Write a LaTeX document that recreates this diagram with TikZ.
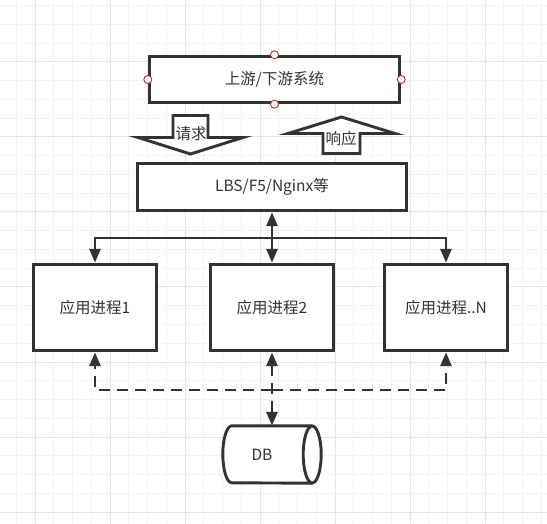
\documentclass[tikz,border=0pt]{standalone}
\usepackage{fontspec}
\setmainfont{Noto Sans CJK SC}
\usetikzlibrary{arrows.meta}

\begin{document}
\begin{tikzpicture}[x=1pt,y=-1pt,
    head/.tip={Triangle[width=11pt,length=14pt]},
    box/.style={draw=ink,fill=white,line width=2.9pt,text=txt,inner sep=0pt,
        font=\fontsize{15.5}{18}\selectfont},
    lbl/.style={text=txt,inner sep=0pt,font=\fontsize{15.5}{18}\selectfont},
    conn/.style={draw=ink,line width=2.9pt,-head},
    dashconn/.style={conn,dash pattern=on 11pt off 7pt},
    blockarrow/.style={draw=ink,fill=white,line width=2.9pt},
    pin/.style={draw=pinred,fill=white,line width=0.9pt},
    minorgrid/.style={draw=gridlight,line width=1pt},
    majorgrid/.style={draw=griddark,line width=1pt}]

    % Colors
    \definecolor{ink}{RGB}{51,51,51} % dark gray lines
    \definecolor{txt}{RGB}{51,51,51} % text
    \definecolor{pinred}{RGB}{170,50,50} % connection points
    \definecolor{gridlight}{RGB}{242,242,242} % minor grid
    \definecolor{griddark}{RGB}{229,229,229} % major grid

    % Page and background grid
    \useasboundingbox[fill=white] (0,0) rectangle (547,524);
    \foreach \i in {0,...,28} {
        \pgfmathsetmacro{\x}{16.25+18.75*\i}
        \draw[minorgrid] (\x,0) -- (\x,524);
    }
    \foreach \j in {0,...,27} {
        \pgfmathsetmacro{\y}{5.75+18.75*\j}
        \draw[minorgrid] (0,\y) -- (547,\y);
    }
    \foreach \k in {0,...,6} {
        \draw[majorgrid] (35+75*\k,0) -- (35+75*\k,524);
        \draw[majorgrid] (0,62+75*\k) -- (547,62+75*\k);
    }

    % Upstream / downstream system
    \node[box, minimum width=250.5pt, minimum height=46.5pt] (sys) at (274.5,79.5) {上游/下游系统};
    \foreach \p in {north,south,east,west} {
        \draw[pin] (sys.\p) circle[radius=4];
    }

    % Request and response block arrows
    \draw[blockarrow] (173,115.5) -- (208,115.5) -- (208,137.5) -- (243,137.5)
        -- (190.5,154) -- (138,137.5) -- (173,137.5) -- cycle;
    \node[lbl] (req) at (191,133.5) {请求};
    \draw[blockarrow] (323,153.5) -- (360,153.5) -- (360,133.5) -- (395,133.5)
        -- (341.5,117) -- (288,133.5) -- (323,133.5) -- cycle;
    \node[lbl] (resp) at (341,138.5) {响应};

    % Load balancer
    \node[box, minimum width=269.5pt, minimum height=47.5pt] (lbs) at (272,187) {LBS/F5/Nginx等};

    % Application processes
    \node[box, minimum width=123pt, minimum height=86.5pt] (app1) at (95,307.5) {应用进程1};
    \node[box, minimum width=123pt, minimum height=86.5pt] (app2) at (272,307.5) {应用进程2};
    \node[box, minimum width=123pt, minimum height=86.5pt] (appn) at (446,307.5) {应用进程..N};

    % Database cylinder
    \node[inner sep=0pt, minimum width=98pt, minimum height=57pt] (db) at (272,454.5) {};
    \draw[blockarrow] ([xshift=-9pt]db.north east) -- ([xshift=9pt]db.north west)
        arc[start angle=270, end angle=90, x radius=9, y radius=28.5]
        -- ([xshift=-9pt]db.south east);
    \draw[blockarrow] ([xshift=-9pt]db.east) ellipse[x radius=9, y radius=28.5];
    \node[lbl] (dbtext) at ([xshift=-10pt]db.center) {DB};

    % Forwarding from the load balancer
    \coordinate (bus) at (272,238);
    \draw[conn, head-head] (lbs) -- (app2);
    \draw[conn] (bus) -| (app1);
    \draw[conn] (bus) -| (appn);

    % Access to the database
    \coordinate (dbus) at (272,390);
    \draw[dashconn] (dbus) -| (app1);
    \draw[dashconn] (dbus) -| (appn);
    \draw[dashconn, head-head] (app2) -- (db);

\end{tikzpicture}
\end{document}
